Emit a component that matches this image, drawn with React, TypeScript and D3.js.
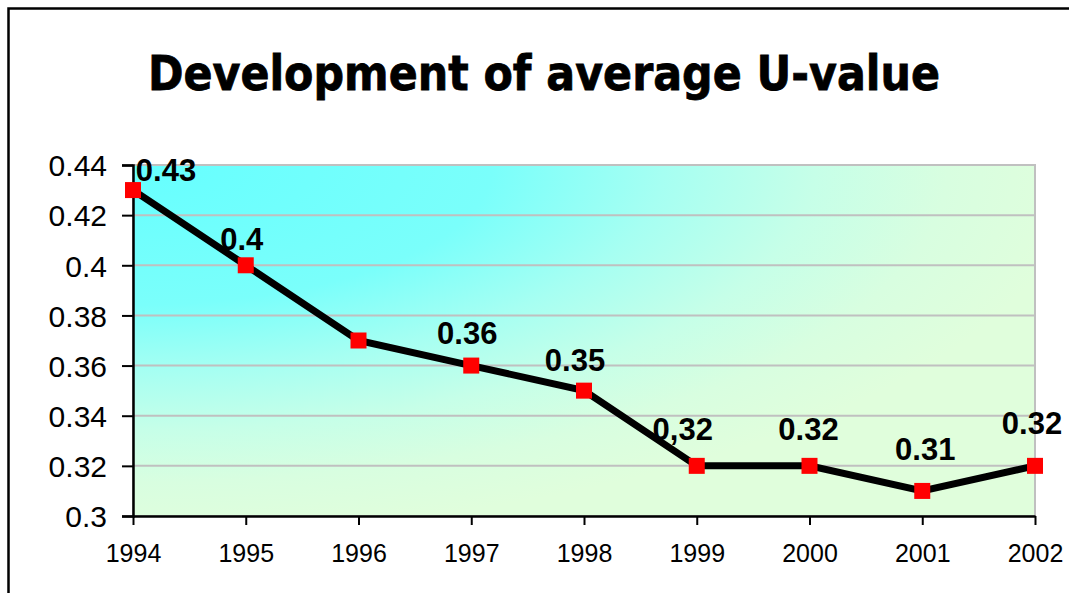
import React, { useEffect, useRef } from 'react';
import * as d3 from 'd3';

const years = ['1994', '1995', '1996', '1997', '1998', '1999', '2000', '2001', '2002'];
const uValues = [0.43, 0.4, 0.37, 0.36, 0.35, 0.32, 0.32, 0.31, 0.32];
// labels as shown on the chart (1996 has none, 1999 uses a comma)
const valueLabels = ['0.43', '0.4', '', '0.36', '0.35', '0,32', '0.32', '0.31', '0.32'];
const yTicks = [0.3, 0.32, 0.34, 0.36, 0.38, 0.4, 0.42, 0.44];

// hand-moved label offsets [dx, dy] from the point
const labelNudge: [number, number][] = [
  [33, -9], [-4, -15], [0, -22], [-4, -22], [-9, -20], [-14, -26], [-1, -26], [3, -31], [-3, -32]
];

const W = 1069;
const H = 593;

const App: React.FC = () => {
  const svgRef = useRef<SVGSVGElement>(null);

  useEffect(() => {
    if (!svgRef.current) return;
    const svg = d3.select(svgRef.current);
    svg.selectAll('*').remove();

    const left = 133, right = 1035, top = 165, bottom = 516;

    const x = d3.scalePoint<string>().domain(years).range([left, right]);
    const y = d3.scaleLinear().domain([0.3, 0.44]).range([bottom, top]);

    // background gradient, cyan in top-left corner fading to pale green
    const defs = svg.append('defs');
    const grad = defs.append('radialGradient')
      .attr('id', 'plotBg')
      .attr('cx', 0).attr('cy', 0).attr('r', 1.05)
      .attr('fx', 0).attr('fy', 0);
    [
      [0, '#66ffff'], [0.38, '#7afffb'], [0.56, '#a6fff2'],
      [0.72, '#c6ffe8'], [0.86, '#d8fee0'], [1, '#e0fedc']
    ].forEach(([o, c]) => grad.append('stop').attr('offset', o as number).attr('stop-color', c as string));

    // outer frame
    svg.append('rect')
      .attr('x', 8.5).attr('y', 8.5)
      .attr('width', W + 20).attr('height', H + 20)
      .attr('fill', '#fff')
      .attr('stroke', '#000')
      .attr('stroke-width', 2.5);

    svg.append('text')
      .attr('x', 148).attr('y', 90)
      .attr('textLength', 792)
      .attr('lengthAdjust', 'spacingAndGlyphs')
      .style('font-family', '"DejaVu Sans", Verdana, sans-serif')
      .style('font-weight', 'bold')
      .style('font-size', '48px')
      .style('stroke', '#000')
      .style('stroke-width', 0.8)
      .text('Development of average U-value');

    svg.append('rect')
      .attr('x', left).attr('y', top)
      .attr('width', right - left).attr('height', bottom - top)
      .attr('fill', 'url(#plotBg)')
      .attr('stroke', '#c0c0c0')
      .attr('stroke-width', 2);

    // gridlines
    svg.append('g')
      .selectAll('line')
      .data(yTicks.slice(1))
      .enter()
      .append('line')
      .attr('x1', left).attr('x2', right)
      .attr('y1', d => y(d)).attr('y2', d => y(d))
      .attr('stroke', '#c0c0c0')
      .attr('stroke-width', 2);

    // axes
    const axisFont = 'Arial, "Liberation Sans", sans-serif';
    const yAxis = svg.append('g')
      .attr('transform', `translate(${left},0)`)
      .call(d3.axisLeft(y).tickValues(yTicks).tickSize(11).tickPadding(15).tickFormat(d => String(+d)));
    yAxis.select('.domain').attr('stroke', '#000').attr('stroke-width', 2.5);
    yAxis.selectAll('.tick line').attr('stroke', '#000').attr('stroke-width', 2);
    yAxis.selectAll('.tick text')
      .attr('dy', '0.36em')
      .style('font-family', axisFont)
      .style('font-size', '30px')
      .attr('fill', '#000');

    const xAxis = svg.append('g')
      .attr('transform', `translate(0,${bottom})`)
      .call(d3.axisBottom(x).tickSize(9).tickSizeOuter(0).tickPadding(19));
    xAxis.select('.domain').attr('stroke', '#000').attr('stroke-width', 2.5);
    xAxis.selectAll('.tick line').attr('stroke', '#000').attr('stroke-width', 2);
    xAxis.selectAll('.tick text')
      .attr('dy', '0.71em')
      .style('font-family', axisFont)
      .style('font-size', '25px')
      .attr('fill', '#000');

    // series line
    const line = d3.line<number>()
      .x((_, i) => x(years[i]) as number)
      .y(d => y(d));
    svg.append('path')
      .datum(uValues)
      .attr('d', line)
      .attr('fill', 'none')
      .attr('stroke', '#000')
      .attr('stroke-width', 7)
      .attr('stroke-linejoin', 'miter');

    const ms = 16;
    svg.append('g')
      .selectAll('rect')
      .data(uValues)
      .enter()
      .append('rect')
      .attr('x', (_, i) => (x(years[i]) as number) - ms / 2)
      .attr('y', d => y(d) - ms / 2)
      .attr('width', ms).attr('height', ms)
      .attr('fill', '#ff0000');

    svg.append('g')
      .selectAll('text')
      .data(uValues)
      .enter()
      .append('text')
      .attr('x', (_, i) => (x(years[i]) as number) + labelNudge[i][0])
      .attr('y', (d, i) => y(d) + labelNudge[i][1])
      .attr('text-anchor', 'middle')
      .style('font-family', axisFont)
      .style('font-weight', 'bold')
      .style('font-size', '31px')
      .text((_, i) => valueLabels[i]);
  }, []);

  return (
    <svg
      ref={svgRef}
      width={W}
      height={H}
      style={{ position: 'absolute', left: 0, top: 0, background: '#fff' }}
    ></svg>
  );
};

export default App;
